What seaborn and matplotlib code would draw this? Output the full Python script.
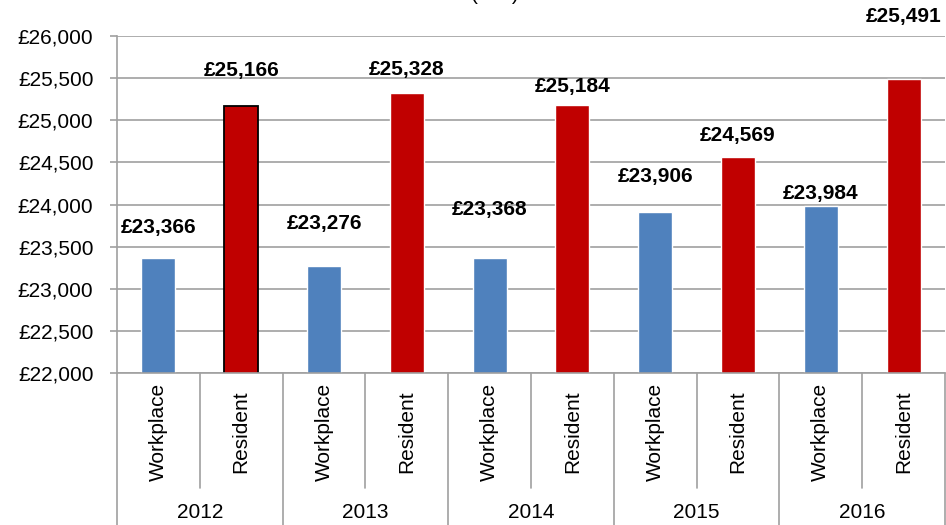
import pandas as pd
import matplotlib
matplotlib.use("Agg")
import matplotlib.pyplot as plt
import matplotlib.transforms as mtransforms
from matplotlib.ticker import FuncFormatter, MultipleLocator
import seaborn as sns

# Data
years = ["2012", "2013", "2014", "2015", "2016"]
types = ["Workplace", "Resident"]
workplace = [23366, 23276, 23368, 23906, 23984]
resident = [25166, 25328, 25184, 24569, 25491]

# label heights above bar tops (points), as placed by hand in the original
label_offsets = [22, 26, 30, 17, 35, 13, 26, 15, 9, 45]

rows = []
for y, w, r in zip(years, workplace, resident):
    rows.append({"cat": f"{y} Workplace", "type": "Workplace", "year": y, "value": w})
    rows.append({"cat": f"{y} Resident", "type": "Resident", "year": y, "value": r})
df = pd.DataFrame(rows)

sns.set_theme(style="white")
plt.rcParams["font.family"] = ["Liberation Sans", "DejaVu Sans"]
plt.rcParams["text.color"] = "black"

fig = plt.figure(figsize=(9.46, 5.25), dpi=100)
ax = fig.add_axes([0.1237, 0.2895, 0.8753, 0.6419])

grid_col = "#A0A0A0"
fs = 15
sns.barplot(data=df, x="cat", y="value", hue="type",
            palette={"Workplace": "#4F81BD", "Resident": "#C00000"},
            dodge=False, width=0.41, saturation=1, legend=False, ax=ax)

# black outline on the first resident bar
for p in ax.patches:
    if round(p.get_x() + p.get_width() / 2) == 1:
        p.set_edgecolor("black")
        p.set_linewidth(1.3)

ax.set_ylim(22000, 26000)
ax.set_xlim(-0.5, 9.5)
ax.yaxis.set_major_locator(MultipleLocator(500))
ax.yaxis.set_major_formatter(FuncFormatter(lambda v, _: f"£{v:,.0f}"))
ax.set_axisbelow(True)
ax.grid(axis="y", color=grid_col, linewidth=1.2)
ax.tick_params(axis="y", labelsize=fs, colors=grid_col, labelcolor="black",
               length=5, width=1.2, left=True, direction="out", pad=12)
ax.set_xticks([])
ax.set_xlabel("")
ax.set_ylabel("")
for s in ["top", "right"]:
    ax.spines[s].set_visible(False)
for s in ["left", "bottom"]:
    ax.spines[s].set_color(grid_col)
    ax.spines[s].set_linewidth(1.2)

# value labels
for i, v in enumerate(df["value"]):
    ax.annotate(f"£{v:,}", (i, v), xytext=(0, label_offsets[i]),
                textcoords="offset points", ha="center", va="center",
                fontsize=fs, fontweight="bold", color="black",
                annotation_clip=False)

# two-level category axis
trans = mtransforms.blended_transform_factory(ax.transData, ax.transAxes)
for k in range(len(df) + 1):
    x = k - 0.5
    bottom = -0.46 if k % 2 == 0 else -0.341
    ax.plot([x, x], [0, bottom], color=grid_col, linewidth=1.2,
            transform=trans, clip_on=False)
for i, t in enumerate(df["type"]):
    ax.text(i, -0.175, t, rotation=90, ha="center", va="center",
            fontsize=fs, color="black", transform=trans)
for j, y in enumerate(years):
    ax.text(2 * j + 0.5, -0.415, y, ha="center", va="center",
            fontsize=fs, color="black", transform=trans)

fig.text(0.523, 1.0, "(£££)", ha="center", va="baseline", fontsize=fs)

fig.savefig("out.png", dpi=100)
